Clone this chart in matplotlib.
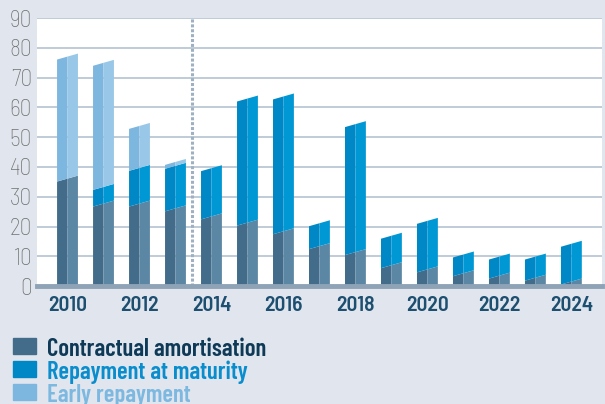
import matplotlib
matplotlib.use("Agg")
import matplotlib.pyplot as plt
from matplotlib.patches import Rectangle

years = [2010, 2011, 2012, 2013, 2014, 2015, 2016, 2017, 2018, 2019, 2020, 2021, 2022, 2023, 2024]
contractual = [36.1, 27.7, 27.7, 26.1, 23.4, 21.3, 18.4, 13.4, 11.4, 7.0, 5.6, 4.3, 3.5, 2.8, 1.5]
maturity = [0.0, 5.6, 12.0, 14.3, 16.2, 41.7, 45.3, 7.7, 43.0, 9.9, 16.3, 6.3, 6.4, 7.1, 12.7]
early = [41.0, 41.7, 14.1, 1.3, 0, 0, 0, 0, 0, 0, 0, 0, 0, 0, 0]
xtick_years = [2010, 2012, 2014, 2016, 2018, 2020, 2022, 2024]
yticks = [0, 10, 20, 30, 40, 50, 60, 70, 80, 90]
labels = ["Contractual amortisation", "Repayment at maturity", "Early repayment"]

TICKFONT = ["Barlow Semi Condensed", "DejaVu Sans"]
LEGFONT = ["Barlow Condensed", "DejaVu Sans"]

BG = "#e1e6ee"
seg_colors = [("#436c8b", "#5c87a4"), ("#0087c5", "#0097d5"), ("#7db6de", "#98c7e8")]
text_colors = ["#0e3a58", "#0a8dcd", "#7cb8e0"]

fig = plt.figure(figsize=(6.05, 4.04), dpi=100, facecolor=BG)
ax = fig.add_axes([0.061, 0.292, 0.934, 0.663])
ax.set_facecolor("white")
ax.set_xlim(2009.15, 2024.85)
ax.set_ylim(0, 90)

w = 0.58
s = 1.0  # half slant of the bar tops
for i, yr in enumerate(years):
    bottom = 0.0
    for vals, (cl, cr) in zip([contractual, maturity, early], seg_colors):
        v = vals[i]
        if v <= 0:
            continue
        top = bottom + v
        bl = bottom - s if bottom > 0 else 0
        br = bottom + s if bottom > 0 else 0
        ax.fill([yr - w / 2, yr, yr, yr - w / 2],
                [bl, (bl + br) / 2, top, top - s], color=cl, lw=0, zorder=3)
        ax.fill([yr, yr + w / 2, yr + w / 2, yr],
                [(bl + br) / 2, br, top + s, top], color=cr, lw=0, zorder=3)
        bottom = top

ax.axvline(2013.47, color="#9fb0c2", lw=2.2, ls=(0, (1, 0.6)), zorder=2)

ax.set_yticks(yticks)
ax.set_xticks(xtick_years)
ax.grid(axis="y", color="#b4c3d2", lw=1.2, zorder=1)
for sp in ["left", "right", "top"]:
    ax.spines[sp].set_visible(False)
ax.spines["bottom"].set_color("#8fa3b7")
ax.spines["bottom"].set_linewidth(3.5)
ax.spines["bottom"].set_zorder(5)
ax.tick_params(axis="both", length=0)
ax.tick_params(axis="y", pad=3.5, labelsize=17, labelcolor="#707070")
ax.tick_params(axis="x", pad=7.5, labelsize=15.5, labelcolor="#1d4f70")
for t in ax.get_yticklabels():
    t.set_fontfamily(TICKFONT)
    t.set_fontweight("light")
for t in ax.get_xticklabels():
    t.set_fontfamily(TICKFONT)
    t.set_fontweight("semibold")

H = 404.0
Wd = 605.0
for k, (lab, (cl, _), tc) in enumerate(zip(labels, seg_colors, text_colors)):
    yc = 346 + 23 * k
    fig.patches.append(Rectangle((12.7 / Wd, (H - yc - 8) / H), 23.3 / Wd, 16 / H,
                                 transform=fig.transFigure, color=cl, figure=fig))
    fig.text(46.7 / Wd, (H - yc - 1) / H, lab, color=tc, fontsize=17.8, fontfamily=LEGFONT,
             fontweight="semibold", va="center_baseline", ha="left")

fig.savefig("out.png", dpi=100, facecolor=BG)
